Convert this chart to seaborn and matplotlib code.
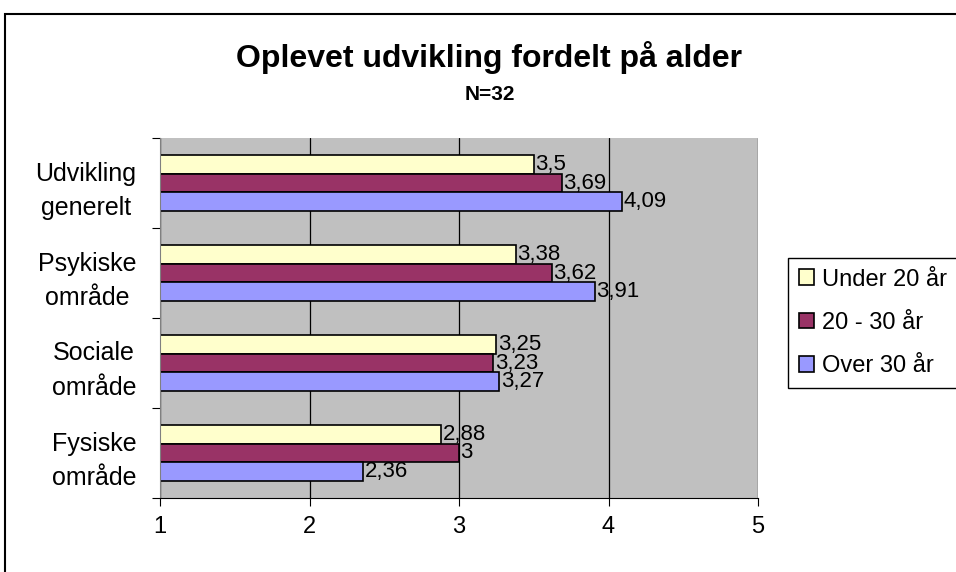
import pandas as pd
import seaborn as sns
import matplotlib.pyplot as plt
from matplotlib.patches import Rectangle
from matplotlib.ticker import MultipleLocator, FixedLocator

# Data ------------------------------------------------------------------------
categories = ["Udvikling\ngenerelt", "Psykiske\nområde", "Sociale\nområde", "Fysiske\nområde"]
groups = ["Under 20 år", "20 - 30 år", "Over 30 år"]
under_20 = [3.5, 3.38, 3.25, 2.88]
age_20_30 = [3.69, 3.62, 3.23, 3.0]
over_30 = [4.09, 3.91, 3.27, 2.36]

colors = ["#FFFFCC", "#993366", "#9999FF"]

df = pd.DataFrame({
    "kategori": categories * 3,
    "gruppe": [g for g in groups for _ in categories],
    "score": under_20 + age_20_30 + over_30,
})

# Plot ------------------------------------------------------------------------
sns.set_style("white")
plt.rcParams["font.family"] = ["Liberation Sans", "DejaVu Sans"]
plt.rcParams["text.color"] = "black"
plt.rcParams["xtick.color"] = "black"
plt.rcParams["ytick.color"] = "black"

fig = plt.figure(figsize=(9.56, 5.72), dpi=100)
ax = fig.add_axes([160 / 956, 1 - 498 / 572, 598 / 956, 360 / 572])

sns.barplot(data=df, y="kategori", x="score", hue="gruppe", order=categories,
            hue_order=groups, palette=colors, orient="h", width=0.63,
            edgecolor="black", linewidth=1.2, saturation=1, ax=ax)

# bars start at the axis crossing (1), like in Excel
for cont in ax.containers:
    for p in cont.patches:
        w = p.get_width()
        p.set_x(1)
        p.set_width(w - 1)
    ax.bar_label(cont, labels=[f"{v:g}".replace(".", ",") for v in cont.datavalues],
                 padding=1, fontsize=16, color="black")

ax.set_facecolor("#C0C0C0")
ax.set_xlim(1, 5)
ax.set_ylim(3.5, -0.5)
ax.xaxis.set_major_locator(MultipleLocator(1))
ax.grid(axis="x", color="black", linewidth=0.9)
ax.set_axisbelow(True)

ax.yaxis.set_minor_locator(FixedLocator([-0.5, 0.5, 1.5, 2.5, 3.5]))
ax.tick_params(axis="y", which="major", length=0, pad=17, labelsize=18)
ax.tick_params(axis="y", which="minor", left=True, length=6, width=0.8, color="black")
ax.tick_params(axis="x", bottom=True, length=6, width=0.8, color="black", pad=7, labelsize=17)
for lbl in ax.get_yticklabels():
    lbl.set_multialignment("center")
    lbl.set_linespacing(1.55)

ax.set_xlabel("")
ax.set_ylabel("")
for s in ["top", "right"]:
    ax.spines[s].set_visible(False)
ax.spines["left"].set_color("#808080")
ax.spines["bottom"].set_color("black")

ax.legend(loc="upper left", bbox_to_anchor=(788 / 956, 1 - 258 / 572),
          bbox_transform=fig.transFigure, borderaxespad=0, fontsize=17,
          frameon=True, fancybox=False, edgecolor="black", framealpha=1,
          handlelength=0.65, handleheight=0.65, handletextpad=0.35,
          labelspacing=0.9, borderpad=0.45)
ax.get_legend().get_frame().set_linewidth(1)

fig.text(489 / 956, 1 - 57 / 572, "Oplevet udvikling fordelt på alder",
         ha="center", va="center", fontsize=23, fontweight="bold")
fig.text(490 / 956, 1 - 94 / 572, "N=32", ha="center", va="center",
         fontsize=15, fontweight="bold")

# chart area frame (cut off at right and bottom)
fig.patches.append(Rectangle((5 / 956, -0.1), 1.2, (572 - 14) / 572 + 0.1,
                             transform=fig.transFigure, fill=False,
                             edgecolor="black", linewidth=1.5))

fig.savefig("out.png", dpi=100)
